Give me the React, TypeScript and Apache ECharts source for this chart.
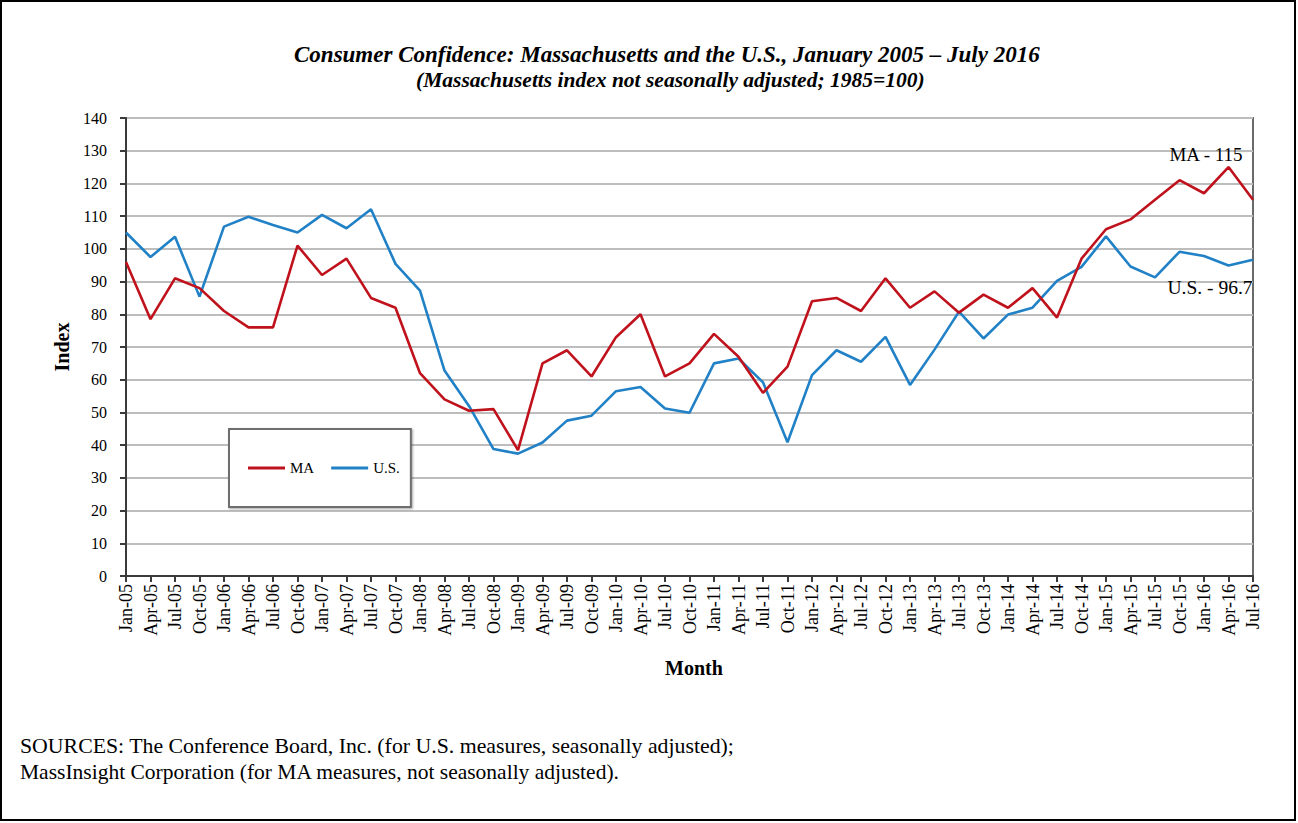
import React, { useEffect, useRef } from "react";
import * as echarts from "echarts";

const categories = [
  "Jan-05", "Apr-05", "Jul-05", "Oct-05",
  "Jan-06", "Apr-06", "Jul-06", "Oct-06",
  "Jan-07", "Apr-07", "Jul-07", "Oct-07",
  "Jan-08", "Apr-08", "Jul-08", "Oct-08",
  "Jan-09", "Apr-09", "Jul-09", "Oct-09",
  "Jan-10", "Apr-10", "Jul-10", "Oct-10",
  "Jan-11", "Apr-11", "Jul-11", "Oct-11",
  "Jan-12", "Apr-12", "Jul-12", "Oct-12",
  "Jan-13", "Apr-13", "Jul-13", "Oct-13",
  "Jan-14", "Apr-14", "Jul-14", "Oct-14",
  "Jan-15", "Apr-15", "Jul-15", "Oct-15",
  "Jan-16", "Apr-16", "Jul-16",
];

const maValues = [
  96, 78.5, 91, 88,
  81, 76, 76, 101,
  92, 97, 85, 82,
  62, 54, 50.5, 51,
  38.5, 65, 69, 61,
  73, 80, 61, 65,
  74, 67, 56, 64,
  84, 85, 81, 91,
  82, 87, 80.5, 86,
  82, 88, 79, 97,
  106, 109, 115, 121,
  117, 125, 115,
];

const usValues = [
  105, 97.5, 103.7, 85.4,
  106.8, 109.8, 107.3, 105,
  110.4, 106.3, 112.1, 95.4,
  87.2, 62.8, 52, 38.8,
  37.4, 40.8, 47.5, 49,
  56.5, 57.8, 51.2, 49.9,
  65, 66.5, 59.2, 40.9,
  61.4, 69, 65.5, 73.1,
  58.4, 69.2, 80.8, 72.6,
  79.9, 82, 90.2, 94.5,
  103.8, 94.6, 91.3, 99.1,
  97.8, 94.9, 96.7,
];

const endLabels = ["MA - 115", "U.S. - 96.7"];

const sourceLines = [
  "SOURCES: The Conference Board, Inc. (for U.S. measures, seasonally adjusted);",
  "MassInsight Corporation (for MA measures, not seasonally adjusted).",
];

const SERIF = '"Liberation Serif", "Times New Roman", serif';
const RED = "#C0121C";
const BLUE = "#2181C6";

export default function App() {
  const ref = useRef<HTMLDivElement>(null);

  useEffect(() => {
    if (!ref.current) return;
    const chart = echarts.init(ref.current, null, { renderer: "svg" });
    const last = categories.length - 1;
    chart.setOption({
      animation: false,
      backgroundColor: "#ffffff",
      textStyle: { fontFamily: SERIF },
      title: [
        {
          text: "Consumer Confidence: Massachusetts and the U.S., January 2005 \u2013 July 2016",
          left: 289,
          top: 38,
          textStyle: {
            fontFamily: SERIF,
            fontSize: 23,
            fontWeight: "bold",
            fontStyle: "italic",
            color: "#000",
          },
        },
        {
          text: "(Massachusetts index not seasonally adjusted; 1985=100)",
          left: 411,
          top: 64,
          textStyle: {
            fontFamily: SERIF,
            fontSize: 21.5,
            fontWeight: "bold",
            fontStyle: "italic",
            color: "#000",
          },
        },
      ],
      legend: {
        left: 229,
        top: 429,
        orient: "horizontal",
        padding: [31, 11, 31, 19],
        itemGap: 17,
        itemWidth: 37,
        itemHeight: 3,
        icon: "rect",
        borderColor: "#6e6e6e",
        borderWidth: 2,
        backgroundColor: "#fff",
        shadowColor: "rgba(0,0,0,0.35)",
        shadowBlur: 2,
        shadowOffsetX: 1,
        shadowOffsetY: 1,
        selectedMode: false,
        textStyle: { fontFamily: SERIF, fontSize: 15, color: "#000", lineHeight: 16 },
        data: ["MA", "U.S."],
      },
      grid: {
        left: 126,
        top: 118,
        width: 1127,
        height: 458,
        show: true,
        borderColor: "#6a6a6a",
        borderWidth: 2,
        backgroundColor: "transparent",
      },
      xAxis: {
        type: "category",
        data: categories,
        boundaryGap: false,
        name: "Month",
        nameLocation: "middle",
        nameGap: 82,
        nameTextStyle: {
          fontFamily: SERIF,
          fontSize: 20,
          fontWeight: "bold",
          color: "#000",
          padding: [0, 0, 0, 9],
        },
        axisLine: { lineStyle: { color: "#3a3a3a", width: 2 } },
        axisTick: { show: true, interval: 0, length: 6, lineStyle: { color: "#3a3a3a", width: 2 } },
        axisLabel: {
          interval: 0,
          rotate: 90,
          margin: 8,
          fontFamily: SERIF,
          fontSize: 18,
          color: "#000",
        },
        splitLine: { show: false },
      },
      yAxis: {
        type: "value",
        min: 0,
        max: 140,
        interval: 10,
        name: "Index",
        nameLocation: "middle",
        nameGap: 51,
        nameTextStyle: { fontFamily: SERIF, fontSize: 20, fontWeight: "bold", color: "#000" },
        axisLine: { show: true, lineStyle: { color: "#3a3a3a", width: 2 } },
        axisTick: { show: true, length: 6, lineStyle: { color: "#3a3a3a", width: 2 } },
        axisLabel: { margin: 19, fontFamily: SERIF, fontSize: 16, color: "#000" },
        splitLine: { show: true, lineStyle: { color: "#bdbdbd", width: 2 } },
      },
      series: [
        {
          name: "MA",
          type: "line",
          data: maValues,
          symbol: "none",
          lineStyle: { color: RED, width: 2.6 },
          itemStyle: { color: RED },
          z: 3,
          markPoint: {
            symbol: "circle",
            symbolSize: 0,
            data: [
              {
                coord: [categories[last], maValues[last]],
                label: {
                  show: true,
                  position: "inside",
                  offset: [-47, -45],
                  formatter: endLabels[0],
                  fontFamily: SERIF,
                  fontSize: 19,
                  color: "#000",
                },
              },
            ],
          },
        },
        {
          name: "U.S.",
          type: "line",
          data: usValues,
          symbol: "none",
          lineStyle: { color: BLUE, width: 2.6 },
          itemStyle: { color: BLUE },
          z: 2,
          markPoint: {
            symbol: "circle",
            symbolSize: 0,
            data: [
              {
                coord: [categories[last], usValues[last]],
                label: {
                  show: true,
                  position: "inside",
                  offset: [-43, 28],
                  formatter: endLabels[1],
                  fontFamily: SERIF,
                  fontSize: 19.5,
                  color: "#000",
                },
              },
            ],
          },
        },
      ],
      graphic: [
        {
          type: "rect",
          shape: { x: 1, y: 1, width: 1294, height: 819 },
          style: { fill: "none", stroke: "#000", lineWidth: 2 },
          silent: true,
          z: 100,
        },
        {
          type: "text",
          left: 20,
          top: 735,
          style: { text: sourceLines[0], fontFamily: SERIF, fontSize: 21.8, fill: "#000" },
        },
        {
          type: "text",
          left: 20,
          top: 761,
          style: { text: sourceLines[1], fontFamily: SERIF, fontSize: 21.5, fill: "#000" },
        },
      ],
    });
    return () => chart.dispose();
  }, []);

  return (
    <div
      ref={ref}
      style={{ position: "fixed", left: 0, top: 0, width: 1298, height: 823, background: "#fff" }}
    />
  );
}
